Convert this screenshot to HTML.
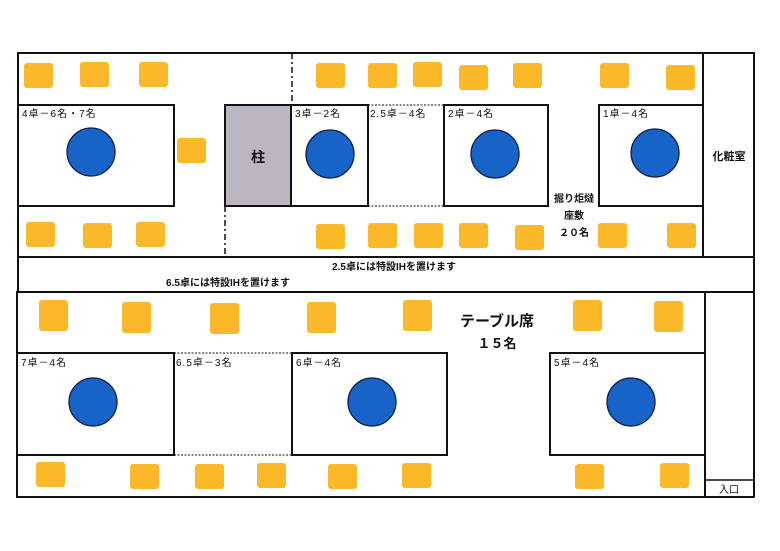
<!DOCTYPE html>
<html><head><meta charset="utf-8"><style>
html,body{margin:0;padding:0;background:#fff}
svg{display:block}
text{font-family:"Liberation Sans","Noto Sans CJK JP",sans-serif;fill:#111}
.c{fill:#fbb829}
.t{fill:#1763c8;stroke:#0a1e4a;stroke-width:1.3}
.b{fill:#fff;stroke:#111;stroke-width:2}
.lbl{font-size:10px;letter-spacing:1px}
.bold{font-weight:bold}
</style></head><body>
<svg width="780" height="551" viewBox="0 0 780 551" xmlns="http://www.w3.org/2000/svg">
<rect width="780" height="551" fill="#fff"/>
<rect x="18" y="53" width="736" height="204" fill="none" stroke="#111" stroke-width="2"/>
<line x1="703" y1="53" x2="703" y2="257" stroke="#111" stroke-width="2"/>
<rect x="18" y="257" width="736" height="35" fill="none" stroke="#111" stroke-width="2"/>
<line x1="754" y1="292" x2="754" y2="497" stroke="#111" stroke-width="2"/>
<rect x="17" y="292" width="688" height="205" fill="none" stroke="#111" stroke-width="2"/>
<line x1="705" y1="497" x2="754" y2="497" stroke="#111" stroke-width="2"/>
<rect x="705" y="480" width="49" height="17" fill="none" stroke="#111" stroke-width="1.5"/>
<text x="729" y="493" font-size="10" text-anchor="middle">入口</text>
<text x="729" y="160" font-size="11" class="bold" text-anchor="middle">化粧室</text>
<line x1="292" y1="53" x2="292" y2="105" stroke="#111" stroke-width="1.5" stroke-dasharray="6,3,2,3"/>
<line x1="225" y1="206" x2="225" y2="257" stroke="#111" stroke-width="1.5" stroke-dasharray="6,3,2,3"/>
<rect class="b" x="18" y="105" width="156" height="101"/>
<text x="22" y="117" class="lbl">4卓－6名・7名</text>
<circle class="t" cx="91" cy="152" r="24"/>
<rect x="225" y="105" width="66" height="101" fill="#bbb6c0" stroke="#111" stroke-width="2"/>
<text x="258" y="162" font-size="14" class="bold" text-anchor="middle">柱</text>
<rect class="b" x="291" y="105" width="77" height="101"/>
<text x="295" y="117" class="lbl">3卓－2名</text>
<circle class="t" cx="330" cy="154" r="24"/>
<line x1="368" y1="105" x2="444" y2="105" stroke="#111" stroke-width="1" stroke-dasharray="2,1.5"/>
<line x1="368" y1="206" x2="444" y2="206" stroke="#111" stroke-width="1" stroke-dasharray="2,1.5"/>
<text x="370" y="117" class="lbl">2.5卓－4名</text>
<rect class="b" x="444" y="105" width="104" height="101"/>
<text x="448" y="117" class="lbl">2卓－4名</text>
<circle class="t" cx="495" cy="154" r="24"/>
<rect class="b" x="599" y="105" width="104" height="101"/>
<text x="603" y="117" class="lbl">1卓－4名</text>
<circle class="t" cx="655" cy="153" r="24"/>
<text x="574" y="202" font-size="10" class="bold" text-anchor="middle">掘り炬燵</text>
<text x="574" y="219" font-size="10" class="bold" text-anchor="middle">座敷</text>
<text x="574" y="236" font-size="10" class="bold" text-anchor="middle">２０名</text>
<g class="c">
<rect x="24" y="63" width="29" height="25" rx="3"/><rect x="80" y="62" width="29" height="25" rx="3"/><rect x="139" y="62" width="29" height="25" rx="3"/>
<rect x="316" y="63" width="29" height="25" rx="3"/><rect x="368" y="63" width="29" height="25" rx="3"/><rect x="413" y="62" width="29" height="25" rx="3"/>
<rect x="459" y="65" width="29" height="25" rx="3"/><rect x="513" y="63" width="29" height="25" rx="3"/><rect x="600" y="63" width="29" height="25" rx="3"/><rect x="666" y="65" width="29" height="25" rx="3"/>
<rect x="177" y="138" width="29" height="25" rx="3"/>
<rect x="26" y="222" width="29" height="25" rx="3"/><rect x="83" y="223" width="29" height="25" rx="3"/><rect x="136" y="222" width="29" height="25" rx="3"/>
<rect x="316" y="224" width="29" height="25" rx="3"/><rect x="368" y="223" width="29" height="25" rx="3"/><rect x="414" y="223" width="29" height="25" rx="3"/>
<rect x="459" y="223" width="29" height="25" rx="3"/><rect x="515" y="225" width="29" height="25" rx="3"/><rect x="598" y="223" width="29" height="25" rx="3"/><rect x="667" y="223" width="29" height="25" rx="3"/>
</g>
<text x="394" y="270" font-size="10" class="bold" text-anchor="middle">2.5卓には特設IHを置けます</text>
<text x="228" y="286" font-size="10" class="bold" text-anchor="middle">6.5卓には特設IHを置けます</text>
<text x="497" y="326" font-size="15" class="bold" text-anchor="middle">テーブル席</text>
<text x="497" y="348" font-size="13" class="bold" text-anchor="middle">１５名</text>
<rect class="b" x="17" y="353" width="157" height="102"/>
<text x="21" y="366" class="lbl">7卓－4名</text>
<circle class="t" cx="93" cy="402" r="24"/>
<line x1="174" y1="353" x2="292" y2="353" stroke="#111" stroke-width="1" stroke-dasharray="2,1.5"/>
<line x1="174" y1="455" x2="292" y2="455" stroke="#111" stroke-width="1" stroke-dasharray="2,1.5"/>
<text x="176" y="366" class="lbl">6.5卓－3名</text>
<rect class="b" x="292" y="353" width="155" height="102"/>
<text x="296" y="366" class="lbl">6卓－4名</text>
<circle class="t" cx="372" cy="402" r="24"/>
<rect class="b" x="550" y="353" width="155" height="102"/>
<text x="554" y="366" class="lbl">5卓－4名</text>
<circle class="t" cx="631" cy="402" r="24"/>
<g class="c">
<rect x="39" y="300" width="29" height="31" rx="3"/><rect x="122" y="302" width="29" height="31" rx="3"/><rect x="210" y="303" width="29" height="31" rx="3"/>
<rect x="307" y="302" width="29" height="31" rx="3"/><rect x="403" y="300" width="29" height="31" rx="3"/><rect x="573" y="300" width="29" height="31" rx="3"/><rect x="654" y="301" width="29" height="31" rx="3"/>
<rect x="36" y="462" width="29" height="25" rx="3"/><rect x="130" y="464" width="29" height="25" rx="3"/><rect x="195" y="464" width="29" height="25" rx="3"/>
<rect x="257" y="463" width="29" height="25" rx="3"/><rect x="328" y="464" width="29" height="25" rx="3"/><rect x="402" y="463" width="29" height="25" rx="3"/>
<rect x="575" y="464" width="29" height="25" rx="3"/><rect x="660" y="463" width="29" height="25" rx="3"/>
</g>
</svg>
</body></html>
